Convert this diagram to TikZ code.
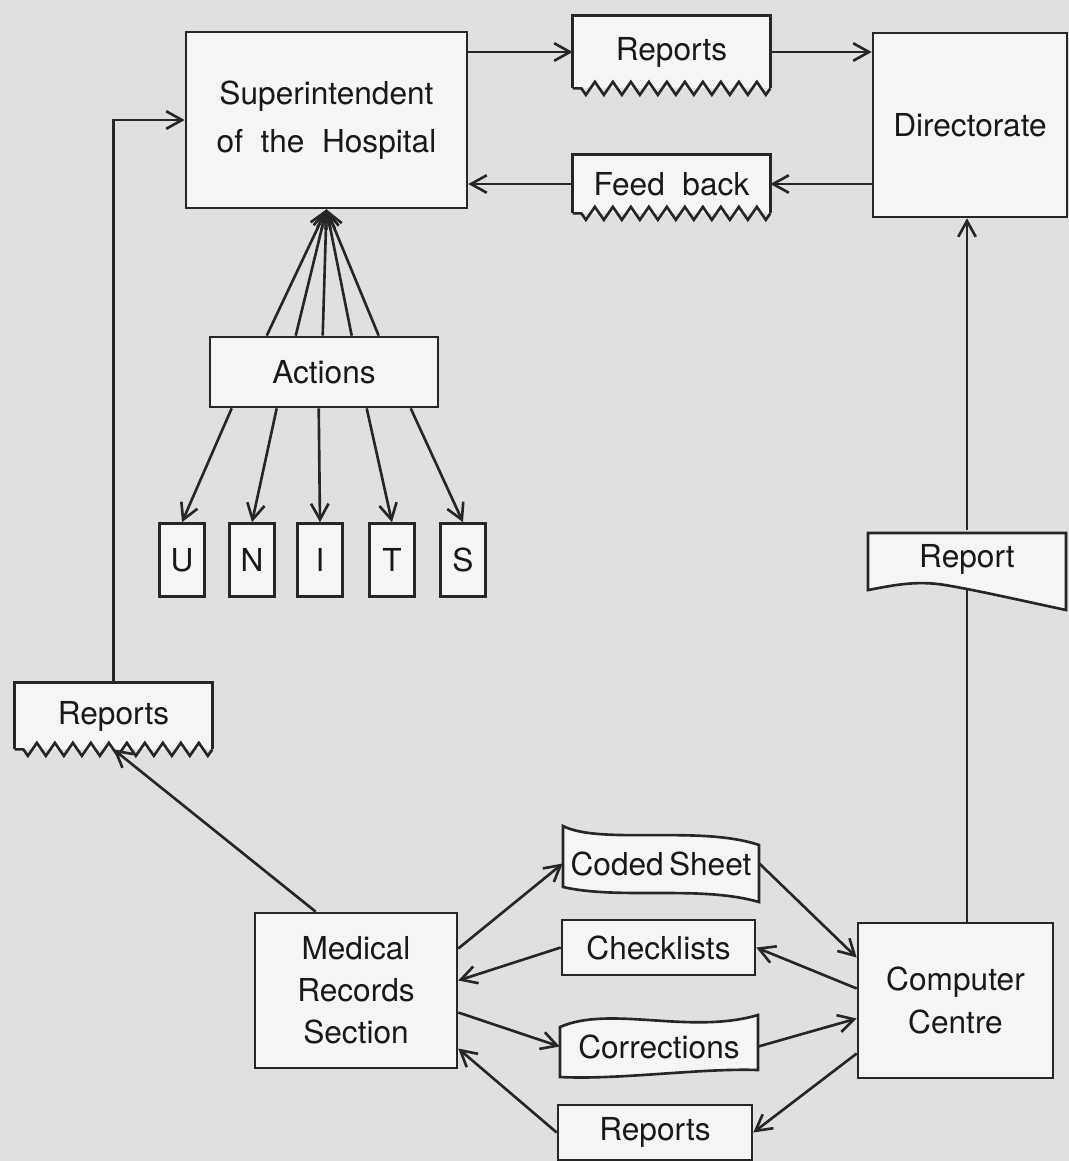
\documentclass[tikz,border=0pt]{standalone}
\usepackage{fontspec}
\setmainfont{TeX Gyre Heros}
\usetikzlibrary{positioning}
\usetikzlibrary{calc}
\usetikzlibrary{backgrounds}
\usetikzlibrary{arrows.meta}
\usetikzlibrary{decorations.pathmorphing}
\pgfdeclarelayer{paper}
\pgfsetlayers{paper,background,main}

\begin{document}
\begin{tikzpicture} [x=0.02cm,y=-0.02cm,
            box/.style={draw=black!85,fill=black!4,line width=1.5pt,inner sep=0pt,align=center},
            txt/.style={inner sep=0pt,align=center},
            outline/.style={draw=black!85,line width=1.5pt},
            unitbox/.style={box,minimum width=0.9cm,minimum height=1.46cm},
            zigbottom/.style={decorate,decoration={zigzag,amplitude=1.3mm,segment length=3.6mm}},
            flow/.style={->,draw=black!85,line width=1.5pt},
            >={Straight Barb[length=9pt,width=10pt]},
         every node/.append style={font=\fontsize{18}{24}\selectfont,text=black!90}]

% page
\useasboundingbox (0,0) rectangle (1069,1161);
\begin{pgfonlayer}{paper}
   \fill[black!12] (0,0) rectangle (1069,1161);
\end{pgfonlayer}

%Superintendent
\node (sup) at (326.5,120) [box,minimum width=5.62cm,minimum height=3.52cm] {Superintendent\\[3pt]of\ \ the\ \ Hospital};

%Reports up
\node (rep) at (671.5,52) [txt,minimum width=3.94cm,minimum height=1.44cm] {Reports};
\begin{pgfonlayer}{background}
   \fill[black!4] (rep.south west) rectangle (rep.north east);
   \draw[outline] (rep.south west) -- (rep.north west) -- (rep.north east) -- (rep.south east);
   \draw[outline,zigbottom] (rep.south east) -- (rep.south west);
\end{pgfonlayer}

%Feed back
\node (fb) at (671.5,184) [txt,minimum width=3.94cm,minimum height=1.16cm] {Feed\ \ back};
\begin{pgfonlayer}{background}
   \fill[black!4] (fb.south west) rectangle (fb.north east);
   \draw[outline] (fb.south west) -- (fb.north west) -- (fb.north east) -- (fb.south east);
   \draw[outline,zigbottom] (fb.south east) -- (fb.south west);
\end{pgfonlayer}

%Directorate
\node (dir) at (970,125) [box,minimum width=3.88cm,minimum height=3.68cm] {Directorate};

\draw[flow] (rep.west -| sup.east) -- (rep.west);
\draw[flow] (rep.east) -- (rep.east -| dir.west);
\draw[flow] (fb.east -| dir.west) -- (fb.east);
\draw[flow] (fb.west) -- (fb.west -| sup.east);

%Actions
\node (act) at (324,372) [box,minimum width=4.56cm,minimum height=1.4cm] {Actions};
\foreach \d in {58,87,114,143,170}
   \draw[flow] ($(act.north west)+(\d,0)$) -- (sup.south);

%UNITS
\foreach \l/\x/\d in {U/182/23, N/252/68, I/320/110, T/392/158, S/463/202}{
   \node (u\l) at (\x,560) [unitbox] {\l};
   \draw[flow] ($(act.south west)+(\d,0)$) -- (u\l.north);
}

%Reports left
\node (rl) at (113.5,716) [txt,minimum width=3.94cm,minimum height=1.32cm] {Reports};
\begin{pgfonlayer}{background}
   \fill[black!4] (rl.south west) rectangle (rl.north east);
   \draw[outline] (rl.south west) -- (rl.north west) -- (rl.north east) -- (rl.south east);
   \draw[outline,zigbottom] (rl.south east) -- (rl.south west);
\end{pgfonlayer}
\draw[flow] (rl.north) |- (sup.west);

%Medical records
\node (mrs) at (356,990.5) [box,minimum width=4.04cm,minimum height=3.1cm] {Medical\\Records\\Section};
\draw[flow] ($(mrs.north west)+(62,0)$) -- (rl.south);

%Coded sheet
\node (cs) at (661,863.5) [txt,minimum width=3.92cm,minimum height=1.26cm] {Coded\,Sheet};
\begin{pgfonlayer}{background}
   \path[outline,fill=black!4] (563,826) .. controls (600,845) and (700,825) .. (759,845)
      -- (759,902) .. controls (700,885) and (620,900) .. (563,887) -- cycle;
\end{pgfonlayer}

%Checklists
\node (cl) at (658.5,947.5) [box,minimum width=3.86cm,minimum height=1.1cm] {Checklists};

%Corrections
\node (cor) at (659,1046.5) [txt,minimum width=3.96cm,minimum height=1.06cm] {Corrections};
\begin{pgfonlayer}{background}
   \path[outline,fill=black!4] (560,1027) .. controls (610,1005) and (690,1035) .. (758,1015)
      -- (758,1070) .. controls (700,1068) and (620,1080) .. (560,1077) -- cycle;
\end{pgfonlayer}

%Reports down
\node (rb) at (655,1132.5) [box,minimum width=3.88cm,minimum height=1.1cm] {Reports};

%Computer centre
\node (cc) at (955.5,1000.5) [box,minimum width=3.9cm,minimum height=3.1cm] {Computer\\Centre};

\draw[flow] ($(mrs.east)+(0,-42)$) -- (cs.west);
\draw[flow] (cl.west) -- ($(mrs.east)+(0,-10)$);
\draw[flow] ($(mrs.east)+(0,22)$) -- (cor.west);
\draw[flow] (rb.west) -- ($(mrs.east)+(0,58)$);
\draw[flow] (cs.east) -- ($(cc.west)+(0,-43)$);
\draw[flow] ($(cc.west)+(0,-12)$) -- (cl.east);
\draw[flow] (cor.east) -- ($(cc.west)+(0,18)$);
\draw[flow] ($(cc.west)+(0,53)$) -- (rb.east);

%Report right
\node (rr) at (967,559) [txt,minimum width=3.96cm,minimum height=1.14cm] {Report};
\coordinate (rrwave) at (967,589);
\begin{pgfonlayer}{background}
   \path[outline,fill=black!4] (868,590) -- (868,533) -- (1066,533) -- (1066,610)
      .. controls (1010,598) and (975,590) .. (945,585)
      .. controls (915,580) and (890,586) .. (868,590) -- cycle;
\end{pgfonlayer}
\draw[outline] (cc.north -| rrwave) -- (rrwave);
\draw[flow] (rr.north) -- (rr.north |- dir.south);

\end{tikzpicture}
\end{document}
